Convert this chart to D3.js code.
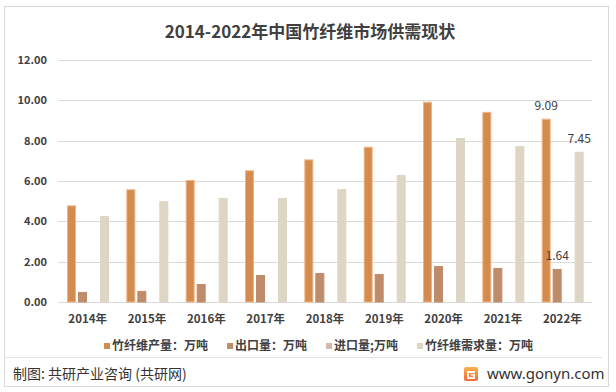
<!DOCTYPE html>
<html><head><meta charset="utf-8">
<script src="https://cdn.jsdelivr.net/npm/d3@7"></script>
<style>
html,body{margin:0;padding:0;background:#fff;}
svg{display:block;font-family:"Noto Sans CJK SC","Noto Sans",sans-serif;}
</style></head>
<body>
<svg id="chart" width="616" height="392"></svg>
<script>
const years = ["2014年","2015年","2016年","2017年","2018年","2019年","2020年","2021年","2022年"];
const production = [4.79,5.59,6.05,6.53,7.07,7.70,9.93,9.43,9.09];
const exportVol = [0.50,0.55,0.89,1.34,1.44,1.39,1.78,1.69,1.64];
const importVol = [0,0,0,0,0,0,0,0,0];
const demand = [4.26,5.00,5.16,5.16,5.60,6.30,8.13,7.73,7.45];
const seriesNames = ["竹纤维产量：万吨","出口量：万吨","进口量;万吨","竹纤维需求量：万吨"];
const yTicks = [0,2,4,6,8,10,12];
const title = "2014-2022年中国竹纤维市场供需现状";
const sourceText = "制图: 共研产业咨询 (共研网)";
const siteText = "www.gonyn.com";

const colors = ["#D38B4E","#BE8C6B","#D6B8A9","#DED6C4"];
const strokes = ["#F0B385","#BE8C6B","#D6B8A9","#DED6C4"];
const seriesData = [production, exportVol, importVol, demand];

const svg = d3.select("#chart");

// outer frame
svg.append("rect").attr("x",4.5).attr("y",6.5).attr("width",604).attr("height",380)
  .attr("fill","#fff").attr("stroke","#D9D9D9");
svg.append("line").attr("x1",4.5).attr("x2",602).attr("y1",357.5).attr("y2",357.5)
  .attr("stroke","#E3E3E3");

// title
svg.append("text").attr("x",310).attr("y",38).attr("text-anchor","middle")
  .attr("font-size",17).attr("font-weight","bold").attr("fill","#404040").text(title);

const y = d3.scaleLinear().domain([0,12]).range([302,60]);
const x0 = d3.scaleBand().domain(years).range([58,592]);
const x1 = d3.scaleBand().domain(d3.range(4)).range([9,51]).paddingInner(0.18);

// grid
const grid = svg.append("g");
grid.selectAll("line").data(yTicks).join("line")
  .attr("x1",58).attr("x2",592)
  .attr("y1",d=>Math.round(y(d))+0.5).attr("y2",d=>Math.round(y(d))+0.5)
  .attr("stroke","#D9D9D9");

// y axis labels
const yAxis = d3.axisLeft(y).tickValues(yTicks).tickFormat(d3.format(".2f")).tickSize(0).tickPadding(0);
const ya = svg.append("g").attr("transform","translate(47,0)").call(yAxis);
ya.select(".domain").remove();
ya.selectAll("text").attr("font-size",11).attr("fill","#404040").attr("font-weight","bold")
  .attr("font-family","'Noto Sans CJK SC','Noto Sans',sans-serif");

// x axis labels
const xAxis = d3.axisBottom(x0).tickSize(0).tickPadding(0);
const xa = svg.append("g").attr("transform","translate(0,315)").call(xAxis);
xa.select(".domain").remove();
xa.selectAll("text").attr("font-size",11.5).attr("fill","#404040").attr("font-weight","bold")
  .attr("font-family","'Noto Sans CJK SC','Noto Sans',sans-serif");

// bars
const groups = svg.append("g").selectAll("g").data(years).join("g")
  .attr("transform",d=>`translate(${x0(d)},0)`);
groups.selectAll("rect").data((d,i)=>seriesData.map((s,k)=>({k,v:s[i]})))
  .join("rect")
  .attr("x",d=>x1(d.k)+0.5).attr("width",x1.bandwidth()-1)
  .attr("y",d=>y(d.v)+0.5).attr("height",d=>Math.max(0,y(0)-y(d.v)-0.5))
  .attr("fill",d=>colors[d.k])
  .attr("stroke",d=>d.v>0?strokes[d.k]:"none").attr("stroke-width",1);

// data labels (last year only)
const last = years.length-1;
const lastX = x0(years[last]);
[[0,production[last]],[1,exportVol[last]],[3,demand[last]]].forEach(([k,v])=>{
  svg.append("text").attr("x",lastX+x1(k)+x1.bandwidth()/2).attr("y",y(v)-9)
    .attr("text-anchor","middle").attr("font-size",12).attr("fill","#404040")
    .text(d3.format(".2f")(v));
});

// legend
const lg = svg.append("g");
let lx = 0;
seriesNames.forEach((n,i)=>{
  const g = lg.append("g").attr("transform",`translate(${lx},0)`);
  g.append("rect").attr("x",0).attr("y",-3).attr("width",6).attr("height",6).attr("fill",colors[i]);
  const t = g.append("text").attr("x",8).attr("y",0).attr("dy","0.35em")
    .attr("font-size",12).attr("font-weight","bold").attr("fill","#404040").text(n);
  const w = t.node().getComputedTextLength();
  lx += 8 + w + 19;
});
const totalW = lx - 19;
lg.attr("transform",`translate(${318.5-totalW/2},346)`);

// footer
svg.append("text").attr("x",13).attr("y",374).attr("dy","0.35em")
  .attr("font-size",14).attr("fill","#333").text(sourceText);
const defs = svg.append("defs");
const grad = defs.append("linearGradient").attr("id","lg1").attr("x1","0").attr("y1","0").attr("x2","0").attr("y2","1");
grad.append("stop").attr("offset","0").attr("stop-color","#F9B24E");
grad.append("stop").attr("offset","1").attr("stop-color","#EF6A3C");
const logo = svg.append("g").attr("transform","translate(464,367)");
logo.append("rect").attr("width",14).attr("height",14).attr("rx",2).attr("fill","url(#lg1)");
logo.append("path").attr("d","M3,4 H11 V6 H5 V10 H9 V8.5 H7 V7 H11 V12 H3 Z").attr("fill","#fff").attr("opacity",0.9);
svg.append("text").attr("x",487).attr("y",374).attr("dy","0.35em")
  .attr("font-size",15).attr("fill","#333").attr("font-family","'Noto Sans','DejaVu Sans',sans-serif").text(siteText);
</script>
</body></html>
